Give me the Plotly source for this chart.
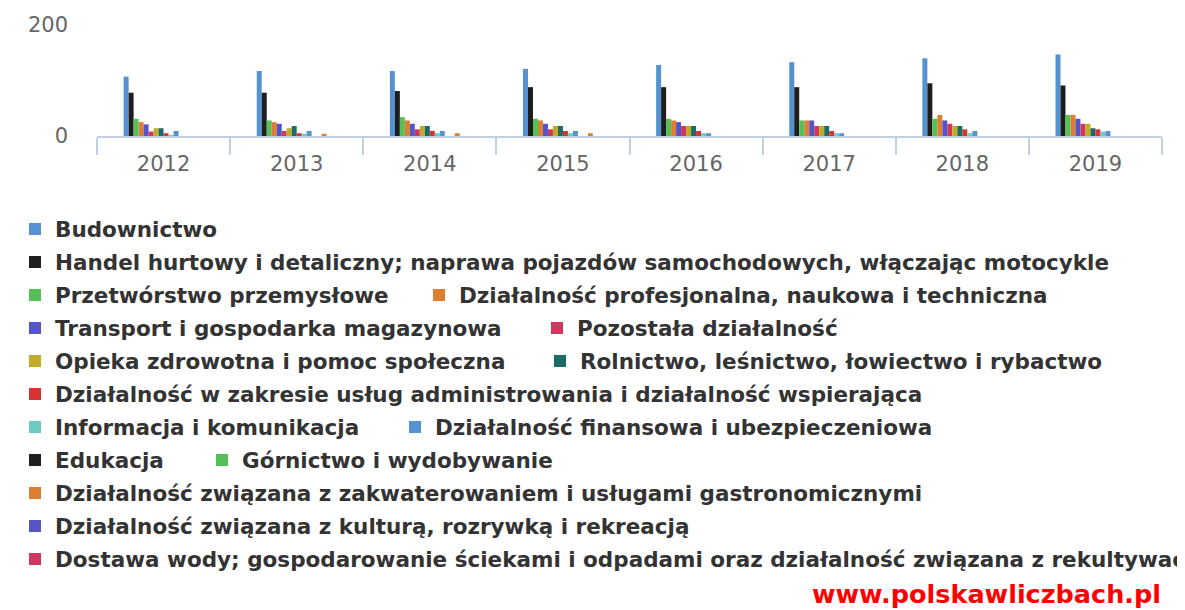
import plotly.graph_objects as go

years = ["2012", "2013", "2014", "2015", "2016", "2017", "2018", "2019"]

series_names = [
    "Budownictwo",
    "Handel hurtowy i detaliczny; naprawa pojazdów samochodowych, włączając motocykle",
    "Przetwórstwo przemysłowe",
    "Działalność profesjonalna, naukowa i techniczna",
    "Transport i gospodarka magazynowa",
    "Pozostała działalność",
    "Opieka zdrowotna i pomoc społeczna",
    "Rolnictwo, leśnictwo, łowiectwo i rybactwo",
    "Działalność w zakresie usług administrowania i działalność wspierająca",
    "Informacja i komunikacja",
    "Działalność finansowa i ubezpieczeniowa",
    "Edukacja",
    "Górnictwo i wydobywanie",
    "Działalność związana z zakwaterowaniem i usługami gastronomicznymi",
    "Działalność związana z kulturą, rozrywką i rekreacją",
    "Dostawa wody; gospodarowanie ściekami i odpadami oraz działalność związana z rekultywacją",
]

budownictwo = [107, 117, 117, 121, 128, 133, 140, 147]
handel = [78, 78, 81, 88, 88, 88, 95, 91]
przetworstwo = [31, 28, 34, 31, 31, 28, 31, 38]
profesjonalna = [25, 25, 28, 28, 28, 28, 38, 38]
transport = [21, 22, 22, 22, 25, 28, 28, 31]
pozostala = [8, 9, 12, 12, 18, 18, 22, 22]
opieka = [14, 14, 18, 18, 18, 18, 18, 22]
rolnictwo = [14, 18, 18, 18, 18, 18, 18, 14]
administrowanie = [5, 5, 9, 9, 9, 9, 12, 12]
informacja = [1, 4, 5, 5, 5, 5, 5, 8]
finansowa = [9, 9, 9, 9, 5, 5, 9, 9]
edukacja = [0, 0, 0, 0, 0, 0, 0, 0]
gornictwo = [0, 0, 0, 0, 0, 0, 0, 0]
zakwaterowanie = [0, 4, 5, 5, 0, 0, 0, 0]
kultura = [0, 0, 0, 0, 0, 0, 0, 0]
dostawa = [0, 0, 0, 0, 0, 0, 0, 0]

series_values = [
    budownictwo, handel, przetworstwo, profesjonalna, transport, pozostala,
    opieka, rolnictwo, administrowanie, informacja, finansowa, edukacja,
    gornictwo, zakwaterowanie, kultura, dostawa,
]

colors = [
    "#5592d2", "#1e1e1e", "#55c055", "#dd7f30", "#5555c8", "#d0365e",
    "#c2ac26", "#1d6b69", "#d83232", "#6ccbc3", "#5592d2", "#1e1e1e",
    "#55c055", "#dd7f30", "#5555c8", "#d0365e",
]

# legend layout: page-pixel x of each entry's text start and y of its row centre
legend_text_x = [55, 55, 55, 459, 55, 577, 55, 580, 55, 55, 435, 55, 242, 55, 55, 55]
legend_row_y = [229, 262, 295, 295, 328, 328, 361, 361, 394, 427, 427, 460, 460, 493, 526, 559]

# the page body has an 8px margin, so the figure is sized to fit the window
OFF = 8
W, H = 1185 - OFF, 610 - OFF

fig = go.Figure()
legend_layouts = {}
for i, (name, vals, col) in enumerate(zip(series_names, series_values, colors)):
    key = "legend" if i == 0 else f"legend{i + 1}"
    fig.add_trace(go.Bar(
        x=years, y=vals, name=name, legend=key,
        marker=dict(color=col, line=dict(width=0)),
    ))
    legend_layouts[key] = dict(
        orientation="h",
        xref="container", yref="container",
        x=(legend_text_x[i] - OFF - 40) / W,
        y=1 - (legend_row_y[i] - OFF) / H,
        xanchor="left", yanchor="middle",
        bgcolor="rgba(0,0,0,0)",
        font=dict(family="DejaVu Sans", size=21.5, color="#333333", weight="bold"),
        itemclick=False, itemdoubleclick=False,
    )

plot_left, plot_top, plot_right, plot_bottom = 97 - OFF, 25 - OFF, 1162 - OFF, 136 - OFF

fig.update_layout(
    width=W, height=H,
    margin=dict(l=plot_left, r=W - plot_right, t=plot_top, b=H - plot_bottom, autoexpand=False),
    paper_bgcolor="white", plot_bgcolor="white",
    barmode="group", bargap=0.4, bargroupgap=0.0,
    font=dict(family="DejaVu Sans", color="#666666"),
    showlegend=True,
    annotations=[dict(
        text="<b>www.polskawliczbach.pl</b>",
        xref="paper", yref="paper", x=1.0, y=-(594 - 136) / 111,
        xanchor="right", yanchor="middle", showarrow=False, borderpad=0,
        font=dict(family="DejaVu Sans", size=25.5, color="#ff0000"),
    )],
    **legend_layouts,
)

fig.update_xaxes(
    type="category", automargin=False,
    showline=True, linecolor="#c0d0e0", linewidth=2,
    ticks="outside", tickson="boundaries", ticklen=17, tickcolor="#c0d0e0", tickwidth=2,
    tickfont=dict(size=21, color="#666666"),
    ticklabelstandoff=8,
    showgrid=False,
)
fig.update_yaxes(
    range=[0, 200], tickvals=[0, 200], automargin=False,
    showgrid=True, gridcolor="#d8d8d8", gridwidth=2,
    zeroline=False, showline=False,
    tickfont=dict(size=21, color="#666666"),
    ticks="", ticklabelstandoff=28,
)

fig.write_html("out.html")
